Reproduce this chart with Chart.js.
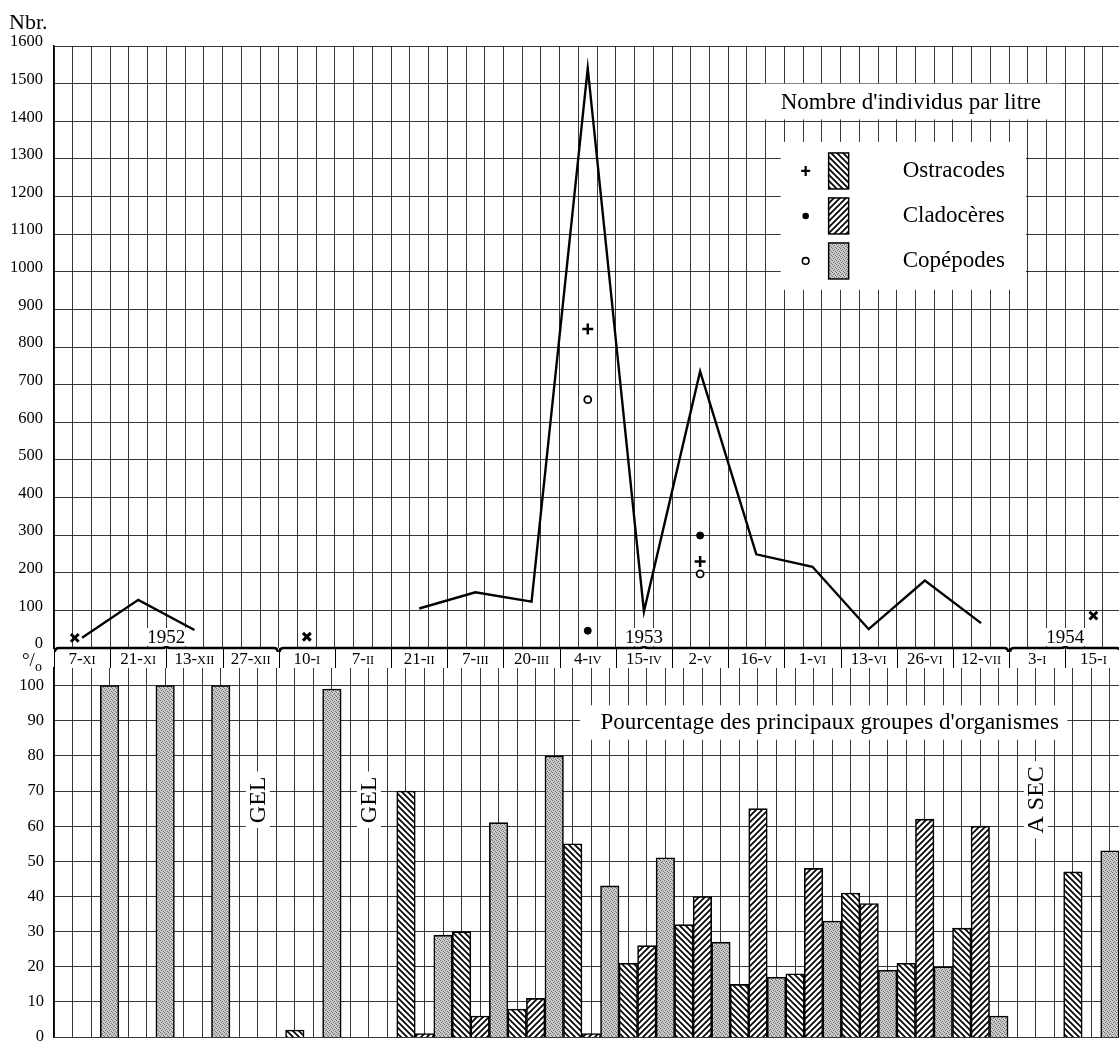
<!DOCTYPE html>
<html>
<head>
<meta charset="utf-8">
<title>Zooplancton 1952-1954</title>
<script src="https://cdn.jsdelivr.net/npm/chart.js@4.4.0/dist/chart.umd.min.js"></script>
<style>
  html, body { margin: 0; padding: 0; background: #fff; overflow: hidden; }
  #wrap { position: relative; width: 1119px; height: 1057px; overflow: hidden; }
  #wrap canvas { position: absolute; left: 0; top: 0; }
</style>
</head>
<body>
<div id="wrap">
  <canvas id="bottomChart" width="1130" height="1057"></canvas>
  <canvas id="topChart" width="1130" height="1057"></canvas>
</div>
<script>
// sampling dates (one column each, three slots per column)
const dates = ['7-XI', '21-XI', '13-XII', '27-XII', '10-I', '7-II', '21-II', '7-III', '20-III',
  '4-IV', '15-IV', '2-V', '16-V', '1-VI', '13-VI', '26-VI', '12-VII', '3-I', '15-I'];

const yearLabels = ['1952', '1953', '1954'];
const yearFirstCol = [0, 4, 17];
const yearEndCol = [4, 17, 19];

// number of individuals per litre
const totalPerLitre = [27, 128, 48, null, null, null, 105, 148, 123, 1541, 97, 735, 249, 216, 50, 179, 66, null, null];
const ostracodesPerLitre = [null, null, null, null, null, null, null, null, null, 848, null, 230, null, null, null, null, null, null, null];
const cladoceresPerLitre = [null, null, null, null, null, null, null, null, null, 46, null, 299, null, null, null, null, null, null, null];
const copepodesPerLitre = [null, null, null, null, null, null, null, null, null, 660, null, 197, null, null, null, null, null, null, null];
// samples marked with a cross (column position, value)
const crossCols = [-0.13, 4, 18];
const crossValues = [27, 30, 86];

// percentage of the main groups
const ostracodesPct = [null, null, null, null, 2, null, 70, 30, 8, 55, 21, 32, 15, 18, 41, 21, 31, null, 47];
const cladoceresPct = [null, null, null, null, null, null, 1, 6, 11, 1, 26, 40, 65, 48, 38, 62, 60, null, null];
const copepodesPct = [100, 100, 100, null, 99, null, 29, 61, 80, 43, 51, 27, 17, 33, 19, 20, 6, null, 53];

const frozenCols = [3, 5];
const dryCols = [17];

const serif = "'Liberation Serif', 'DejaVu Serif', serif";
const gridColor = 'rgba(0,0,0,0.78)';

function makeHatch(dir) {
  const s = 6;
  const c = document.createElement('canvas');
  c.width = s; c.height = s;
  const g = c.getContext('2d');
  g.fillStyle = '#fff';
  g.fillRect(0, 0, s, s);
  g.strokeStyle = '#000';
  g.lineWidth = 1.7;
  g.beginPath();
  if (dir === 'down') {
    g.moveTo(-1, -1); g.lineTo(s + 1, s + 1);
    g.moveTo(-1, s - 1); g.lineTo(1, s + 1);
    g.moveTo(s - 1, -1); g.lineTo(s + 1, 1);
  } else {
    g.moveTo(-1, s + 1); g.lineTo(s + 1, -1);
    g.moveTo(-1, 1); g.lineTo(1, -1);
    g.moveTo(s - 1, s + 1); g.lineTo(s + 1, s - 1);
  }
  g.stroke();
  return g.createPattern(c, 'repeat');
}

function makeStipple() {
  const c = document.createElement('canvas');
  c.width = 4; c.height = 4;
  const g = c.getContext('2d');
  g.fillStyle = '#cacaca';
  g.fillRect(0, 0, 4, 4);
  g.fillStyle = '#6e6e6e';
  [[0, 0], [2, 1], [1, 2], [3, 3]].forEach(p => g.fillRect(p[0], p[1], 1, 1));
  return g.createPattern(c, 'repeat');
}

const ostracodesFill = makeHatch('down');
const cladoceresFill = makeHatch('up');
const copepodesFill = makeStipple();

// x axis is counted in slots: 3 slots per date column
const slotOf = (col, k) => 3 * col + k + 0.5;
const centreOf = col => 3 * col + 1.5;

function rangeTicks(min, max, step) {
  const out = [];
  for (let v = min; v <= max + 1e-9; v += step) out.push({ value: v });
  return out;
}

function drawDate(ctx, label, cx, baseline) {
  const parts = label.split('-');
  const big = `17px ${serif}`;
  const small = `12.5px ${serif}`;
  ctx.font = big;
  const w1 = ctx.measureText(parts[0] + '-').width;
  ctx.font = small;
  const w2 = ctx.measureText(parts[1]).width;
  const left = cx - (w1 + w2) / 2;
  ctx.textAlign = 'left';
  ctx.textBaseline = 'alphabetic';
  ctx.font = big;
  ctx.fillText(parts[0] + '-', left, baseline);
  ctx.font = small;
  ctx.fillText(parts[1], left + w1, baseline);
}

function drawMarker(ctx, kind, px, py) {
  ctx.save();
  ctx.strokeStyle = '#000';
  ctx.fillStyle = '#000';
  if (kind === 'plus') {
    ctx.lineWidth = 2.2;
    ctx.beginPath();
    ctx.moveTo(px - 4.5, py); ctx.lineTo(px + 4.5, py);
    ctx.moveTo(px, py - 5); ctx.lineTo(px, py + 5);
    ctx.stroke();
  } else if (kind === 'dot') {
    ctx.beginPath(); ctx.arc(px, py, 3.3, 0, Math.PI * 2); ctx.fill();
  } else {
    ctx.lineWidth = 1.6;
    ctx.fillStyle = '#fff';
    ctx.beginPath(); ctx.arc(px, py, 3.3, 0, Math.PI * 2); ctx.fill(); ctx.stroke();
  }
  ctx.restore();
}

const topDecor = {
  id: 'topDecor',
  afterDraw(chart) {
    const { ctx } = chart;
    const x = chart.scales.x;
    const y = chart.scales.y;
    ctx.save();
    ctx.fillStyle = '#000';

    ctx.font = `22px ${serif}`;
    ctx.textAlign = 'left';
    ctx.textBaseline = 'alphabetic';
    ctx.fillText('Nbr.', 9, 29);

    // date row under the zero line
    const base = y.getPixelForValue(0);
    const rowBottom = base + 20;
    ctx.fillStyle = '#fff';
    ctx.fillRect(x.left, base, x.right - x.left, 20);
    ctx.strokeStyle = '#000';
    ctx.lineWidth = 1;
    ctx.beginPath();
    for (let c = 0; c <= dates.length; c++) {
      const px = Math.round(x.getPixelForValue(3 * c)) + 0.5;
      ctx.moveTo(px, base); ctx.lineTo(px, rowBottom);
    }
    ctx.stroke();
    ctx.fillStyle = '#000';
    dates.forEach((d, c) => drawDate(ctx, d, x.getPixelForValue(centreOf(c)), base + 16));

    // year braces along the zero line
    ctx.lineWidth = 2.4;
    yearLabels.forEach((yl, i) => {
      const x0 = x.getPixelForValue(3 * yearFirstCol[i]) + 1;
      const x1 = x.getPixelForValue(3 * yearEndCol[i]) - 1;
      const mid = (x0 + x1) / 2;
      ctx.beginPath();
      ctx.moveTo(x0, base + 4);
      ctx.quadraticCurveTo(x0, base, x0 + 4, base);
      ctx.lineTo(mid - 4, base);
      ctx.quadraticCurveTo(mid, base, mid, base - 3);
      ctx.quadraticCurveTo(mid, base, mid + 4, base);
      ctx.lineTo(x1 - 4, base);
      ctx.quadraticCurveTo(x1, base, x1, base + 4);
      ctx.stroke();

      ctx.font = `19px ${serif}`;
      const w = ctx.measureText(yl).width;
      ctx.fillStyle = '#fff';
      ctx.fillRect(mid - w / 2 - 2, base - 20, w + 4, 18);
      ctx.fillStyle = '#000';
      ctx.textAlign = 'center';
      ctx.fillText(yl, mid, base - 5);
    });

    // title box
    const tL = x.getPixelForValue(37.7), tR = x.getPixelForValue(53.8);
    const tT = y.getPixelForValue(1500), tB = y.getPixelForValue(1405);
    ctx.fillStyle = '#fff';
    ctx.fillRect(tL, tT, tR - tL, tB - tT);
    ctx.fillStyle = '#000';
    ctx.font = `23px ${serif}`;
    ctx.textAlign = 'center';
    ctx.textBaseline = 'middle';
    ctx.fillText("Nombre d'individus par litre", (tL + tR) / 2, (tT + tB) / 2 + 1);

    // legend box
    const lL = x.getPixelForValue(38.8), lR = x.getPixelForValue(51.9);
    const lT = y.getPixelForValue(1345), lB = y.getPixelForValue(952);
    ctx.fillStyle = '#fff';
    ctx.fillRect(lL, lT, lR - lL, lB - lT);
    const names = ['Ostracodes', 'Cladocères', 'Copépodes'];
    const marks = ['plus', 'dot', 'ring'];
    const fills = [ostracodesFill, cladoceresFill, copepodesFill];
    names.forEach((n, i) => {
      const cy = lT + 29 + 45 * i;
      drawMarker(ctx, marks[i], lL + 25, cy);
      ctx.fillStyle = fills[i];
      ctx.fillRect(lL + 48, cy - 18, 20, 36);
      ctx.strokeStyle = '#000';
      ctx.lineWidth = 1.5;
      ctx.strokeRect(lL + 48, cy - 18, 20, 36);
      ctx.fillStyle = '#000';
      ctx.font = `23px ${serif}`;
      ctx.textAlign = 'left';
      ctx.textBaseline = 'middle';
      ctx.fillText(n, lL + 122, cy);
    });
    ctx.restore();
  }
};

const bottomDecor = {
  id: 'bottomDecor',
  afterDraw(chart) {
    const { ctx } = chart;
    const x = chart.scales.x;
    const y = chart.scales.y;
    ctx.save();
    ctx.fillStyle = '#000';
    ctx.font = `19px ${serif}`;
    ctx.textAlign = 'left';
    ctx.textBaseline = 'alphabetic';
    ctx.fillText('°/', 22, 666);
    ctx.font = `14px ${serif}`;
    ctx.fillText('o', 35, 671);

    // title box
    const bL = x.getPixelForValue(27.9), bR = x.getPixelForValue(54.2);
    const bT = y.getPixelForValue(94.4), bB = y.getPixelForValue(84.6);
    ctx.fillStyle = '#fff';
    ctx.fillRect(bL, bT, bR - bL, bB - bT);
    ctx.fillStyle = '#000';
    ctx.font = `23px ${serif}`;
    ctx.textAlign = 'center';
    ctx.textBaseline = 'middle';
    ctx.fillText("Pourcentage des principaux groupes d'organismes", (bL + bR) / 2 + 6, (bT + bB) / 2);

    // vertical notes
    const notes = frozenCols.map(c => ({ col: c, text: 'GEL' })).concat(dryCols.map(c => ({ col: c, text: 'A SEC' })));
    notes.forEach(n => {
      const cx = x.getPixelForValue(centreOf(n.col));
      const cy = y.getPixelForValue(67.5);
      ctx.font = `24px ${serif}`;
      const w = ctx.measureText(n.text).width;
      ctx.save();
      ctx.translate(cx, cy);
      ctx.rotate(-Math.PI / 2);
      ctx.fillStyle = '#fff';
      ctx.fillRect(-w / 2 - 5, -12, w + 10, 24);
      ctx.fillStyle = '#000';
      ctx.textAlign = 'center';
      ctx.textBaseline = 'middle';
      ctx.fillText(n.text, 0, 1);
      ctx.restore();
    });
    ctx.restore();
  }
};

const slotAxis = {
  type: 'linear',
  min: 0,
  max: 3 * dates.length,
  afterBuildTicks: ax => { ax.ticks = rangeTicks(0, 3 * dates.length, 1); },
  ticks: { display: false },
  grid: { color: gridColor, lineWidth: 1, drawTicks: false },
  border: { display: false },
  afterFit: s => { s.height = 0; }
};

const tickFont = { family: serif, size: 16.5 };

new Chart(document.getElementById('topChart'), {
  type: 'line',
  data: {
    datasets: [
      {
        label: 'Total',
        data: totalPerLitre.map((v, i) => ({ x: centreOf(i), y: v })),
        borderColor: '#000',
        borderWidth: 2.4,
        pointRadius: 0,
        tension: 0,
        spanGaps: false
      },
      {
        label: 'x',
        data: crossCols.map((c, i) => ({ x: centreOf(c), y: crossValues[i] })),
        showLine: false,
        pointStyle: 'crossRot',
        pointRadius: 5.5,
        borderColor: '#000',
        borderWidth: 3
      },
      {
        label: 'Ostracodes',
        data: ostracodesPerLitre.map((v, i) => ({ x: centreOf(i), y: v })),
        showLine: false,
        pointStyle: 'cross',
        pointRadius: 5.5,
        borderColor: '#000',
        borderWidth: 2.5
      },
      {
        label: 'Cladocères',
        data: cladoceresPerLitre.map((v, i) => ({ x: centreOf(i), y: v })),
        showLine: false,
        pointStyle: 'circle',
        pointRadius: 3.5,
        backgroundColor: '#000',
        borderColor: '#000',
        borderWidth: 1
      },
      {
        label: 'Copépodes',
        data: copepodesPerLitre.map((v, i) => ({ x: centreOf(i), y: v })),
        showLine: false,
        pointStyle: 'circle',
        pointRadius: 3.5,
        backgroundColor: '#fff',
        borderColor: '#000',
        borderWidth: 1.8
      }
    ]
  },
  options: {
    responsive: false,
    animation: false,
    devicePixelRatio: 1,
    events: [],
    layout: { padding: { top: 46, bottom: 409, left: 0, right: 1.5 } },
    plugins: { legend: { display: false }, tooltip: { enabled: false } },
    scales: {
      x: slotAxis,
      y: {
        min: 0,
        max: 1600,
        afterBuildTicks: ax => { ax.ticks = rangeTicks(0, 1600, 50); },
        ticks: {
          callback: v => (v % 100 === 0 ? String(v) : null),
          font: tickFont,
          color: '#000',
          padding: 11,
          labelOffset: -4
        },
        grid: { color: gridColor, lineWidth: 1, drawTicks: false },
        border: { color: '#000', width: 1.5 },
        afterFit: s => { s.width = 54; }
      }
    }
  },
  plugins: [topDecor]
});

const barCommon = {
  grouped: false,
  barPercentage: 1,
  categoryPercentage: 1,
  borderColor: '#000',
  borderWidth: 1.6,
  borderSkipped: 'start',
  base: -2
};

new Chart(document.getElementById('bottomChart'), {
  type: 'bar',
  data: {
    datasets: [
      Object.assign({ label: 'Ostracodes', backgroundColor: ostracodesFill,
        data: ostracodesPct.map((v, i) => ({ x: slotOf(i, 0), y: v })) }, barCommon),
      Object.assign({ label: 'Cladocères', backgroundColor: cladoceresFill,
        data: cladoceresPct.map((v, i) => ({ x: slotOf(i, 1), y: v })) }, barCommon),
      Object.assign({ label: 'Copépodes', backgroundColor: copepodesFill,
        data: copepodesPct.map((v, i) => ({ x: slotOf(i, 2), y: v })) }, barCommon)
    ]
  },
  options: {
    responsive: false,
    animation: false,
    devicePixelRatio: 1,
    events: [],
    layout: { padding: { top: 668, bottom: 4, left: 0, right: 1.5 } },
    plugins: { legend: { display: false }, tooltip: { enabled: false } },
    scales: {
      x: slotAxis,
      y: {
        min: 0,
        max: 105,
        afterBuildTicks: ax => { ax.ticks = rangeTicks(0, 105, 5); },
        ticks: {
          callback: v => (v % 10 === 0 && v <= 100 ? String(v) : null),
          font: tickFont,
          color: '#000',
          padding: 10
        },
        grid: { color: gridColor, lineWidth: 1, drawTicks: false },
        border: { color: '#000', width: 1.5 },
        afterFit: s => { s.width = 54; }
      }
    }
  },
  plugins: [bottomDecor]
});
</script>
</body>
</html>
